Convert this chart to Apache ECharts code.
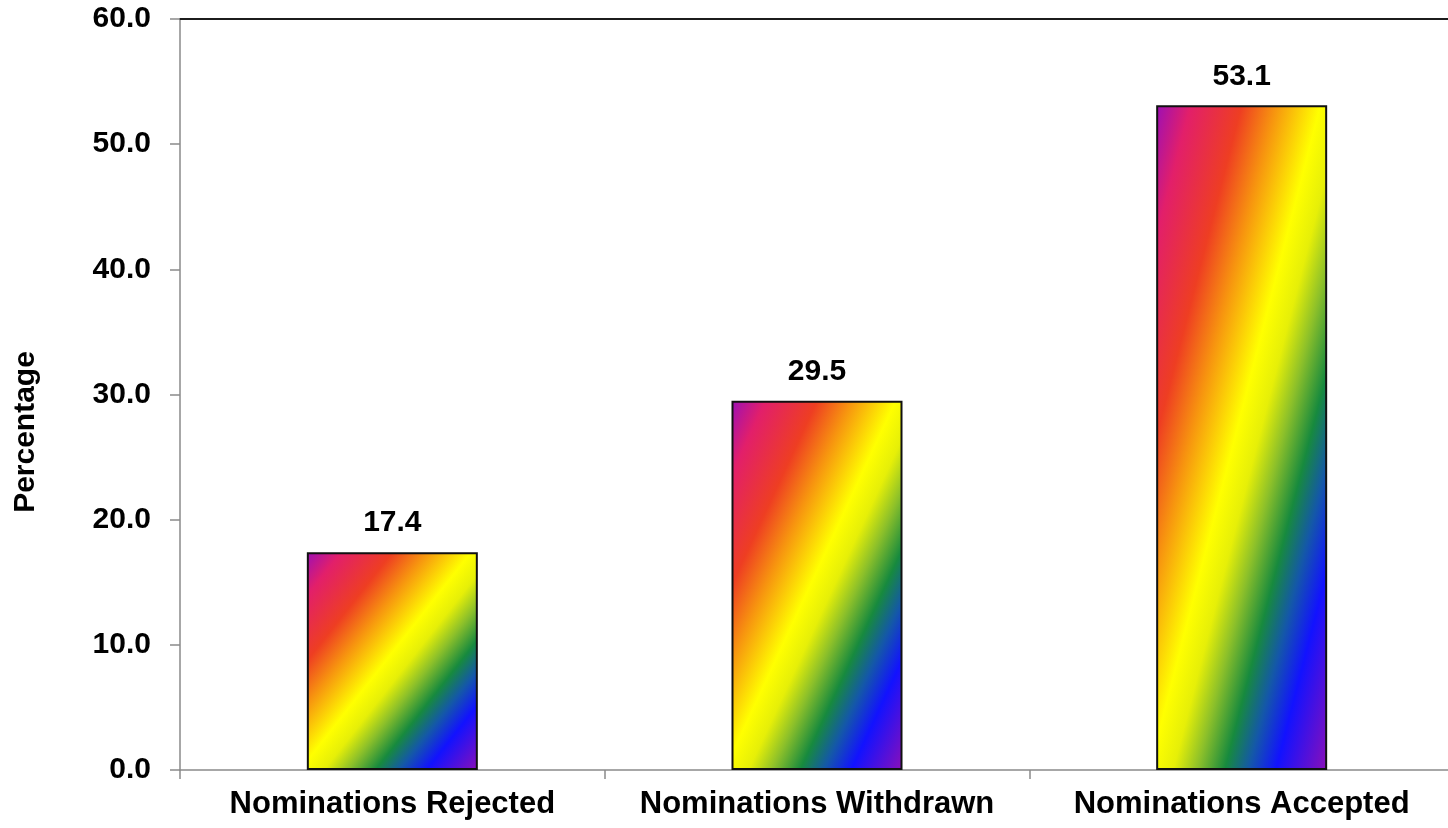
<!DOCTYPE html>
<html>
<head>
<meta charset="utf-8">
<script src="https://cdn.jsdelivr.net/npm/echarts@6/dist/echarts.min.js"></script>
<style>
  html, body { margin: 0; padding: 0; background: #fff; }
  #chart { width: 1448px; height: 828px; }
</style>
</head>
<body>
<div id="chart"></div>
<script>
// Share of nominations by outcome
const categories = ['Nominations Rejected', 'Nominations Withdrawn', 'Nominations Accepted'];
const percentages = [17.4, 29.5, 53.1];
const yTicks = { min: 0, max: 60, interval: 10 };

const FONT = '"Liberation Sans", Arial, Helvetica, sans-serif';
// The plot runs slightly past the right edge of the canvas
const GRID = { left: 180, width: 1274, top: 19, bottom: 58, outerBoundsMode: 'none', containLabel: false };
const BAR_WIDTH = 171;

// Rainbow ramp running from the top-left corner to the bottom-right corner
const rampStops = [
  { offset: 0.00, color: '#9c0fb6' },
  { offset: 0.10, color: '#e21f6a' },
  { offset: 0.25, color: '#ee3e22' },
  { offset: 0.35, color: '#f7940f' },
  { offset: 0.48, color: '#ffff00' },
  { offset: 0.55, color: '#e6ef08' },
  { offset: 0.62, color: '#8cc02a' },
  { offset: 0.70, color: '#178a3e' },
  { offset: 0.77, color: '#1458a8' },
  { offset: 0.85, color: '#1212ff' },
  { offset: 1.00, color: '#8c0fb8' }
];

const chart = echarts.init(document.getElementById('chart'), null, { renderer: 'canvas' });
const plotHeight = 828 - GRID.top - GRID.bottom;

// Gradient whose colour bands follow the bar's anti-diagonal (stretched with the shape)
function barFill(value) {
  const w = BAR_WIDTH;
  const h = (value - yTicks.min) / (yTicks.max - yTicks.min) * plotHeight;
  const L2 = w * w + h * h;
  const dx = h * h / L2;
  const dy = w * w / L2;
  return new echarts.graphic.LinearGradient(0.5 - dx, 0.5 - dy, 0.5 + dx, 0.5 + dy, rampStops);
}

const option = {
  backgroundColor: '#ffffff',
  animation: false,
  grid: GRID,
  xAxis: [
    {
      type: 'category',
      data: categories,
      position: 'bottom',
      axisLine: { show: true, lineStyle: { color: '#8a8a8a', width: 1.5 } },
      axisTick: { show: true, alignWithLabel: false, length: 9, lineStyle: { color: '#8a8a8a', width: 1.5 } },
      axisLabel: { color: '#000', fontSize: 31, fontWeight: 'bold', fontFamily: FONT, margin: 19, interval: 0 }
    },
    {
      type: 'category',
      data: categories,
      position: 'top',
      axisLine: { show: true, lineStyle: { color: '#1c1c1c', width: 2 } },
      axisTick: { show: false },
      axisLabel: { show: false }
    }
  ],
  yAxis: {
    type: 'value',
    min: yTicks.min,
    max: yTicks.max,
    interval: yTicks.interval,
    axisLine: { show: true, lineStyle: { color: '#8a8a8a', width: 1.5 } },
    axisTick: { show: true, length: 10, lineStyle: { color: '#8a8a8a', width: 1.5 } },
    splitLine: { show: false },
    axisLabel: {
      color: '#000', fontSize: 30, fontWeight: 'bold', fontFamily: FONT, margin: 29,
      formatter: v => v.toFixed(1)
    }
  },
  graphic: [
    {
      type: 'text',
      x: 26,
      y: 432,
      rotation: Math.PI / 2,
      style: {
        text: 'Percentage',
        fill: '#000',
        font: 'bold 30px ' + FONT,
        textAlign: 'center',
        textVerticalAlign: 'middle'
      }
    }
  ],
  series: [
    {
      type: 'bar',
      xAxisIndex: 0,
      barWidth: BAR_WIDTH,
      data: percentages.map(v => ({
        value: v,
        itemStyle: { color: barFill(v) }
      })),
      itemStyle: { borderColor: '#111', borderWidth: 2 },
      label: {
        show: true,
        position: 'top',
        distance: 14,
        color: '#000',
        fontSize: 30,
        fontWeight: 'bold',
        fontFamily: FONT,
        formatter: p => p.value.toFixed(1)
      }
    }
  ]
};

chart.setOption(option);
</script>
</body>
</html>
